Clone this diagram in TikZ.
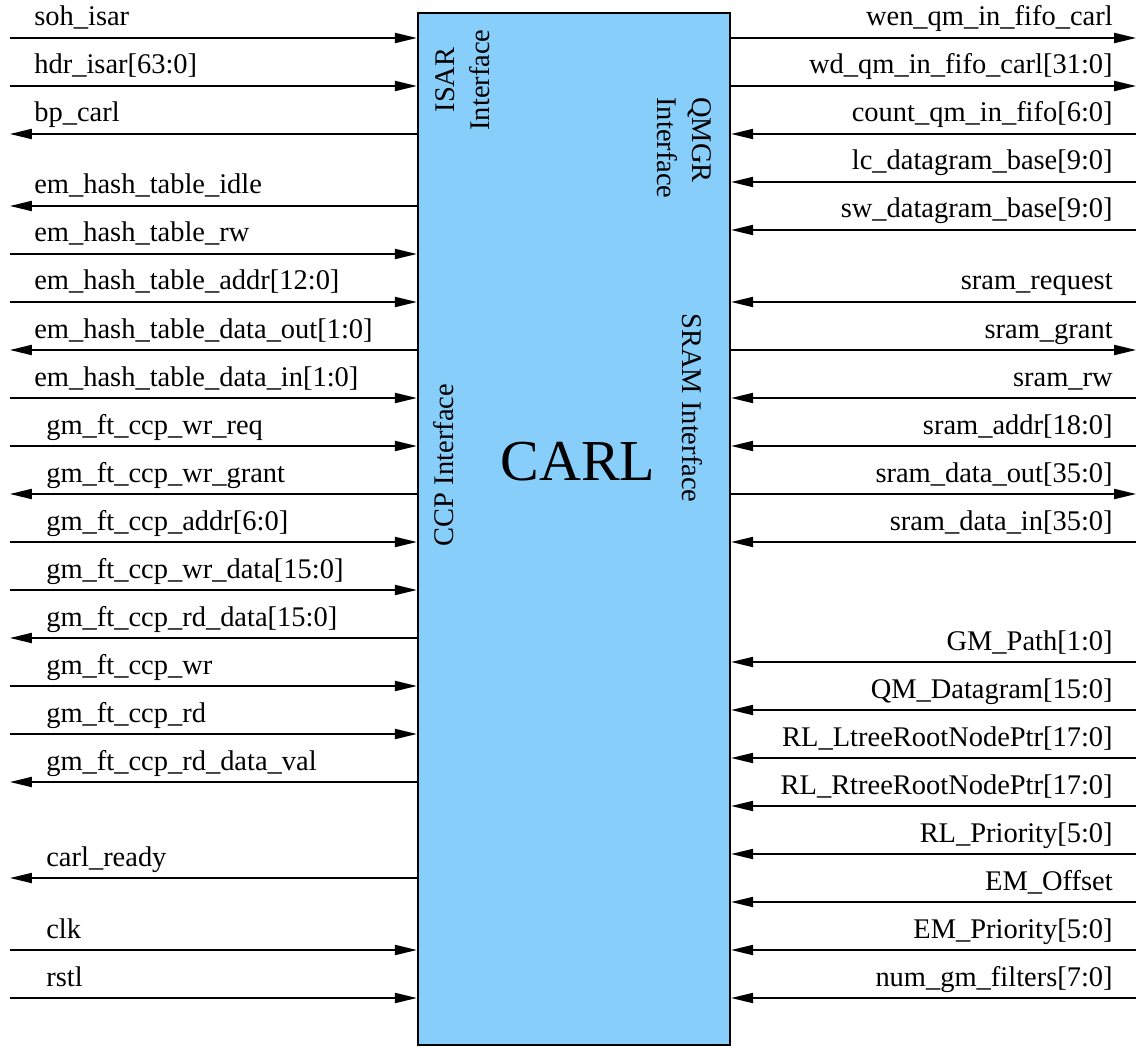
\documentclass[tikz,border=0pt]{standalone}
\usepackage{fontspec}
\setmainfont{Liberation Serif}
\usetikzlibrary{arrows.meta, positioning}
\definecolor{carlblue}{RGB}{135,206,250}

\begin{document}
\begin{tikzpicture}[x=0.02cm, y=-0.02cm,
    sigfont/.style={font=\fontsize{16.2}{19.8}\selectfont},
    carlbox/.style={draw=black, line width=1.4pt, fill=carlblue,
                    minimum width=6.24cm, minimum height=20.64cm, inner sep=0pt},
    wire/.style={line width=0.8pt},
    sigin/.style={wire, -{Triangle[length=12.5pt, width=5.8pt]}},
    sigout/.style={wire, {Triangle[length=12.5pt, width=5.8pt]}-},
    pinlbl/.style={sigfont, inner sep=0pt},
    ifacelbl/.style={sigfont, inner sep=0pt, align=center}]
  \useasboundingbox (0,0) rectangle (1138,1047);

  % CARL block
  \node[carlbox] (carl) at (574,529) {};
  \node[font=\fontsize{33}{40}\selectfont] (title) at (578,462) {CARL};

  % interface captions
  \node[ifacelbl, rotate=90] (isar) at (463,80) {ISAR\\Interface};
  \node[ifacelbl, rotate=-90, align=left] (qmgr) at (684,148) {QMGR\\Interface};
  \node[ifacelbl, rotate=90] (ccp) at (444,465) {CCP Interface};
  \node[ifacelbl, rotate=-90] (sram) at (692,408) {SRAM Interface};

  % left side signals
  \foreach \y/\tx/\kind/\lbl in {
      38/34/sigin/soh\_isar,
      86/34/sigin/hdr\_isar[63:0],
      134/34/sigout/bp\_carl,
      206/34/sigout/em\_hash\_table\_idle,
      254/34/sigin/em\_hash\_table\_rw,
      302/34/sigin/em\_hash\_table\_addr[12:0],
      350/34/sigout/em\_hash\_table\_data\_out[1:0],
      398/34/sigin/em\_hash\_table\_data\_in[1:0],
      446/46/sigin/gm\_ft\_ccp\_wr\_req,
      494/46/sigout/gm\_ft\_ccp\_wr\_grant,
      542/46/sigin/gm\_ft\_ccp\_addr[6:0],
      590/46/sigin/gm\_ft\_ccp\_wr\_data[15:0],
      638/46/sigout/gm\_ft\_ccp\_rd\_data[15:0],
      686/46/sigin/gm\_ft\_ccp\_wr,
      734/46/sigin/gm\_ft\_ccp\_rd,
      782/46/sigout/gm\_ft\_ccp\_rd\_data\_val,
      878/46/sigout/carl\_ready,
      950/46/sigin/clk,
      998/46/sigin/rstl} {
    \coordinate (l\y) at (10,\y);
    \draw[\kind] (l\y) -- (carl.west |- l\y);
    \node[pinlbl, anchor=base west] (lt\y) at (\tx,\y-12) {\lbl};
  }

  % right side signals
  \foreach \y/\kind/\lbl in {
      38/sigout/wen\_qm\_in\_fifo\_carl,
      86/sigout/wd\_qm\_in\_fifo\_carl[31:0],
      134/sigin/count\_qm\_in\_fifo[6:0],
      182/sigin/lc\_datagram\_base[9:0],
      230/sigin/sw\_datagram\_base[9:0],
      302/sigin/sram\_request,
      350/sigout/sram\_grant,
      398/sigin/sram\_rw,
      446/sigin/sram\_addr[18:0],
      494/sigout/sram\_data\_out[35:0],
      542/sigin/sram\_data\_in[35:0],
      662/sigin/GM\_Path[1:0],
      710/sigin/QM\_Datagram[15:0],
      758/sigin/RL\_LtreeRootNodePtr[17:0],
      806/sigin/RL\_RtreeRootNodePtr[17:0],
      854/sigin/RL\_Priority[5:0],
      902/sigin/EM\_Offset,
      950/sigin/EM\_Priority[5:0],
      998/sigin/num\_gm\_filters[7:0]} {
    \coordinate (r\y) at (1136,\y);
    \draw[\kind] (r\y) -- (carl.east |- r\y);
    \node[pinlbl, anchor=base east] (rt\y) at (1113,\y-12) {\lbl};
  }
\end{tikzpicture}
\end{document}
